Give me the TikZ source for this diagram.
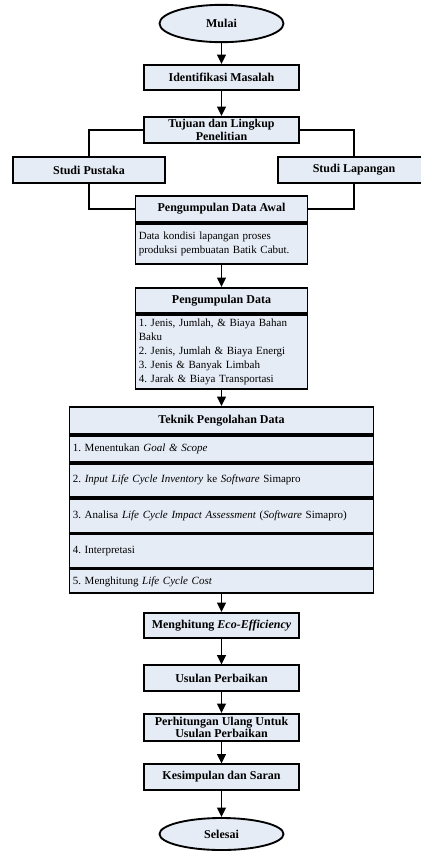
\documentclass[tikz,border=0pt]{standalone}
\usepackage{fontspec}
\setmainfont{Liberation Serif}
\usepackage{tikz}
\usetikzlibrary {arrows.meta}
\usetikzlibrary {shapes.geometric}
\definecolor{isibiru}{RGB}{230,236,246}
\frenchspacing

\begin{document}
\begin{tikzpicture}[x=0.75pt,y=-0.75pt,
    >={Triangle[length=7pt,width=6.5pt]},
    garis/.style={line width=1.4pt},
    kotak/.style={draw,fill=isibiru,line width=1.4pt,font=\fontsize{9}{9.6}\selectfont\bfseries,
      align=center,inner sep=0.5pt,minimum width=116pt,minimum height=19pt},
    oval/.style={ellipse,draw,fill=isibiru,line width=1.4pt,font=\fontsize{9}{10}\selectfont\bfseries,
      inner sep=0pt,minimum width=93pt,minimum height=28pt},
    isi/.style={draw,fill=isibiru,line width=1.4pt,font=\fontsize{8.25}{10.5}\selectfont,
      align=left,inner xsep=2.5pt,inner ysep=0pt}]
        \useasboundingbox (0,0) rectangle (421,851);

        \node[oval] (mulai) at (221.5,23.5) {Mulai};%awal
        \node[kotak] (identifikasi) at (221.5,77.5) {Identifikasi Masalah};
        \node[kotak,minimum height=19.5pt] (tujuan) at (221.5,130) {Tujuan dan Lingkup\\Penelitian};
        \node[kotak,minimum width=114pt,minimum height=19.5pt] (pustaka) at (89,170) {Studi Pustaka};
        \node[kotak,minimum width=114pt,minimum height=19.5pt] (lapangan) at (354,170) {Studi Lapangan};

        \node[kotak,minimum width=129pt,minimum height=19.5pt] (awal) at (221.5,209) {Pengumpulan Data Awal};
        \node[isi,anchor=north,text width=124pt,minimum height=30pt] (awalisi) at (awal.south)
          {Data kondisi lapangan proses\\produksi pembuatan Batik Cabut.};

        \node[kotak,minimum width=129pt,minimum height=18.75pt] (data) at (221.5,300.5) {Pengumpulan Data};
        \node[isi,anchor=north,text width=124pt,minimum height=55.5pt] (dataisi) at (data.south)
          {1. Jenis, Jumlah, \& Biaya Bahan\\Baku\\2. Jenis, Jumlah \& Biaya Energi\\3. Jenis \& Banyak Limbah\\4. Jarak \& Biaya Transportasi};

        \node[kotak,minimum width=228pt,minimum height=20.25pt] (teknik) at (221.5,420.5) {Teknik Pengolahan Data};
        \node[isi,anchor=north,text width=223pt,minimum height=19.5pt] (langkah1) at (teknik.south)
          {1. Menentukan \textit{Goal \& Scope}};
        \node[isi,anchor=north,text width=223pt,minimum height=24.75pt] (langkah2) at (langkah1.south)
          {2. \textit{Input Life Cycle Inventory} ke \textit{Software} Simapro};
        \node[isi,anchor=north,text width=223pt,minimum height=25.5pt] (langkah3) at (langkah2.south)
          {3. Analisa \textit{Life Cycle Impact Assessment} (\textit{Software} Simapro)};
        \node[isi,anchor=north,text width=223pt,minimum height=24.75pt] (langkah4) at (langkah3.south)
          {4. Interpretasi};
        \node[isi,anchor=north,text width=223pt,minimum height=18pt] (langkah5) at (langkah4.south)
          {5. Menghitung \textit{Life Cycle Cost}};

        \node[kotak] (eco) at (221.5,625.5) {Menghitung \textit{Eco-Efficiency}};
        \node[kotak] (usulan) at (221.5,678) {Usulan Perbaikan};
        \node[kotak,minimum height=20.25pt] (ulang) at (221.5,727.5) {Perhitungan Ulang Untuk\\Usulan Perbaikan};
        \node[kotak] (kesimpulan) at (221.5,777) {Kesimpulan dan Saran};
        \node[oval,minimum height=24pt] (selesai) at (221.5,834) {Selesai};%akhir

        \draw[garis,->](mulai)--(identifikasi);
        \draw[garis,->](identifikasi)--(tujuan);
        \draw[garis](tujuan.west)-|(pustaka.north);
        \draw[garis](tujuan.east)-|(lapangan.north);
        \draw[garis](pustaka.south)|-(awal.west);
        \draw[garis](lapangan.south)|-(awal.east);
        \draw[garis,->](awalisi)--(data);
        \draw[garis,->](dataisi)--(teknik);
        \draw[garis,->](langkah5)--(eco);
        \draw[garis,->](eco)--(usulan);
        \draw[garis,->](usulan)--(ulang);
        \draw[garis,->](ulang)--(kesimpulan);
        \draw[garis,->](kesimpulan)--(selesai);
      \end{tikzpicture}
\end{document}
